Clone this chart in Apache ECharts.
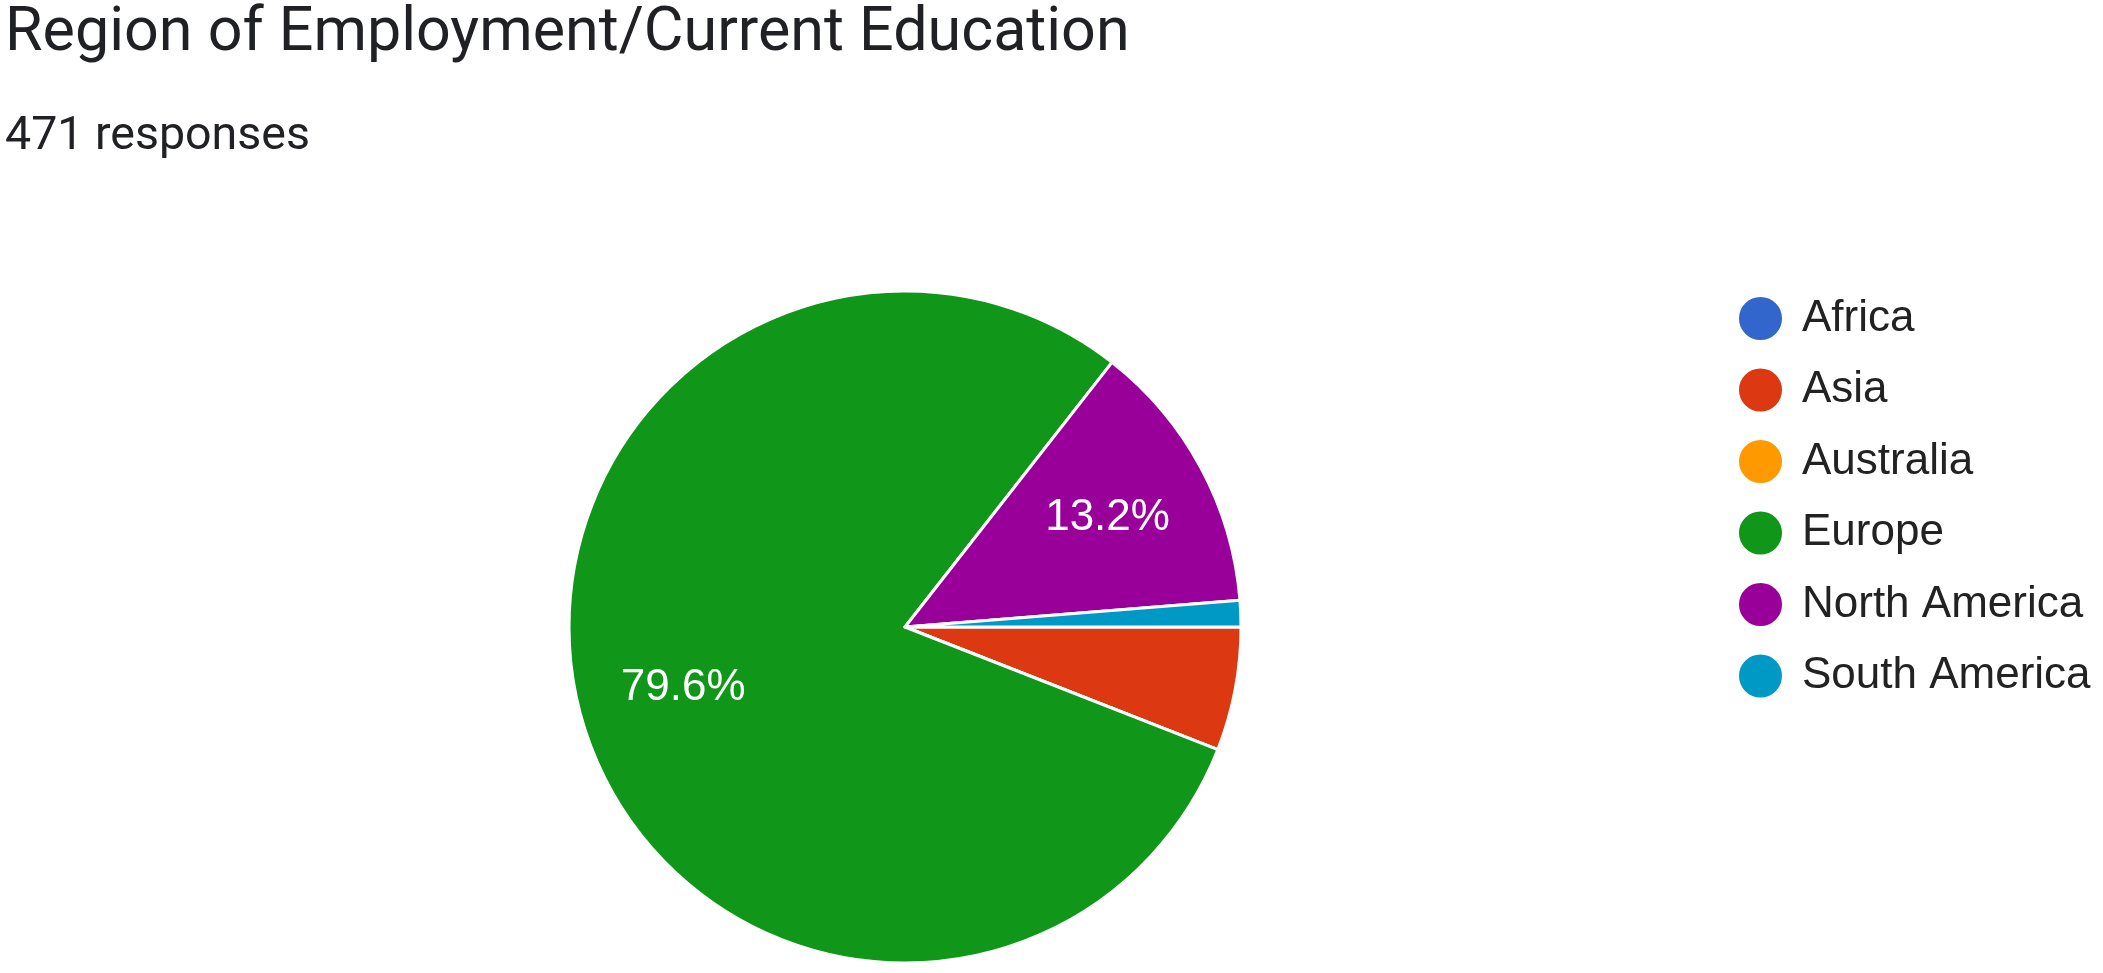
<!DOCTYPE html>
<html>
<head>
<meta charset="utf-8">
<title>Region of Employment/Current Education</title>
<script src="https://cdn.jsdelivr.net/npm/echarts@6/dist/echarts.min.js"></script>
<style>
  html, body { margin: 0; padding: 0; background: #fff; }
  #chart { width: 2103px; height: 973px; }
</style>
</head>
<body>
<div id="chart"></div>
<script>
// survey answers (counts), order as in the legend
const regions = ['Africa', 'Asia', 'Australia', 'Europe', 'North America', 'South America'];
const counts = [0, 28, 0, 375, 62, 6];
const colors = ['#3366cc', '#dc3912', '#ff9900', '#109618', '#990099', '#0099c6'];
const totalResponses = 471;

var myChart = echarts.init(document.getElementById('chart'));

let pieData = regions.map(function (name, i) {
  return { name: name, value: counts[i], itemStyle: { color: colors[i] } };
});
let total = counts.reduce(function (a, b) { return a + b; }, 0);

let option = {
  animation: false,
  title: [
    {
      text: 'Region of Employment/Current Education',
      left: 0,
      top: -1,
      textStyle: {
        fontFamily: 'Roboto',
        fontWeight: 'normal',
        fontSize: 61,
        color: '#202124'
      }
    },
    {
      text: totalResponses + ' responses',
      left: 0,
      top: 109,
      textStyle: {
        fontFamily: 'Roboto',
        fontWeight: 'normal',
        fontSize: 46.5,
        color: '#202124'
      }
    }
  ],
  legend: {
    orient: 'vertical',
    left: 1732,
    top: 290,
    icon: 'circle',
    itemWidth: 45,
    itemHeight: 45,
    itemGap: 24.5,
    data: regions,
    textStyle: {
      fontFamily: 'Liberation Sans',
      fontSize: 44,
      color: '#222222',
      padding: [0, 0, 0, 14]
    }
  },
  series: [
    {
      // the pie itself
      type: 'pie',
      center: [905, 627],
      radius: [0, 336],
      startAngle: 0,
      clockwise: true,
      avoidLabelOverlap: false,
      itemStyle: { borderColor: '#ffffff', borderWidth: 3 },
      label: { show: false },
      labelLine: { show: false },
      emphasis: { disabled: true },
      data: pieData
    },
    {
      // transparent ring only to place the percentage text further out
      type: 'pie',
      silent: true,
      center: [905, 627],
      radius: [118, 336],
      startAngle: 0,
      clockwise: true,
      avoidLabelOverlap: false,
      itemStyle: { color: 'rgba(0,0,0,0)', borderWidth: 0 },
      label: {
        show: true,
        position: 'inside',
        fontFamily: 'Liberation Sans',
        fontSize: 44,
        color: '#ffffff',
        formatter: function (p) {
          let pct = p.value / total * 100;
          return pct >= 10 ? pct.toFixed(1) + '%' : '';
        }
      },
      labelLine: { show: false },
      data: regions.map(function (name, i) { return { name: name, value: counts[i] }; })
    }
  ]
};
myChart.setOption(option);
</script>
</body>
</html>
